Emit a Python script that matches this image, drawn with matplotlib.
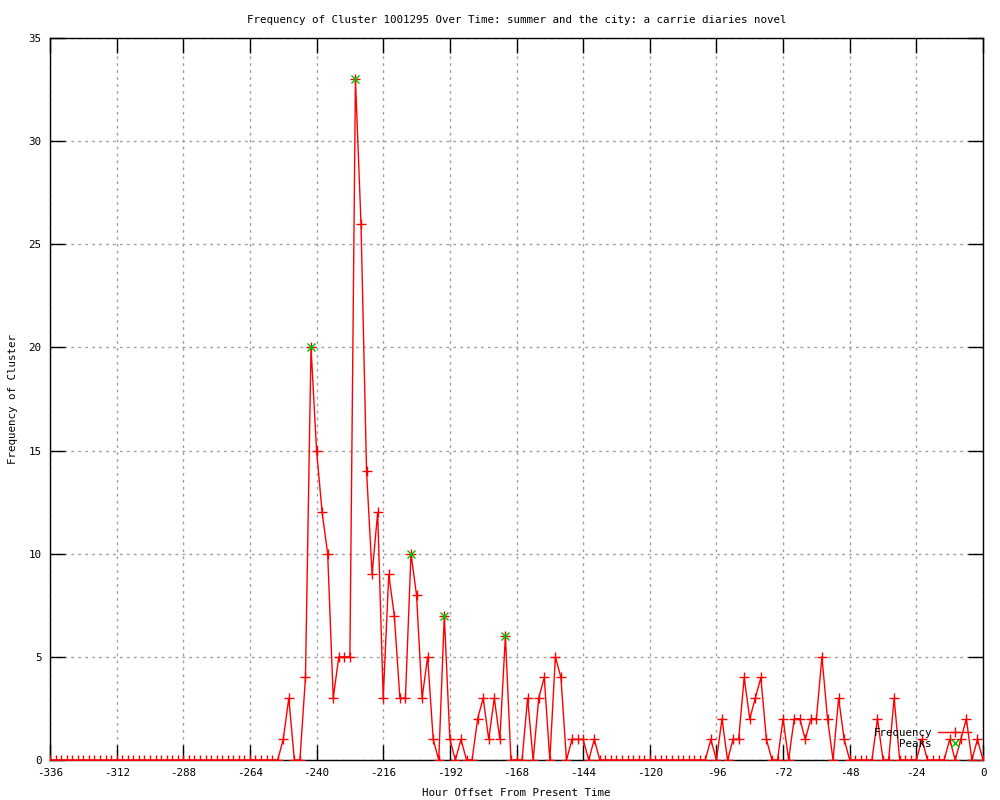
import numpy as np
import matplotlib.pyplot as plt

# Uren od sedanjosti (vsaki 2 uri) in frekvenca gruce
hours = np.arange(-336, 1, 2)
freq = [0] * 42 + [
    1, 3, 0, 0, 4, 20, 15, 12, 10, 3,           # -252 .. -234
    5, 5, 5, 33, 26, 14, 9, 12, 3, 9,           # -232 .. -214
    7, 3, 3, 10, 8, 3, 5, 1, 0, 7,              # -212 .. -194
    1, 0, 1, 0, 0, 2, 3, 1, 3, 1,               # -192 .. -174
    6, 0, 0, 0, 3, 0, 3, 4, 0, 5,               # -172 .. -154
    4, 0, 1, 1, 1, 0, 1, 0,                     # -152 .. -138
] + [0] * 19 + [
    1, 0, 2, 0, 1, 1, 4, 2, 3, 4,               # -98 .. -80
    1, 0, 0, 2, 0, 2, 2, 1, 2, 2,               # -78 .. -60
    5, 2, 0, 3, 1, 0, 0, 0, 0, 0,               # -58 .. -40
    2, 0, 0, 3, 0, 0, 0, 0, 1, 0,               # -38 .. -20
    0, 0, 0, 1, 0, 1, 2, 0, 1, 0,               # -18 .. 0
]

peak_hours = [-242, -226, -206, -194, -172]
peak_values = [20, 33, 10, 7, 6]

x_ticks = list(range(-336, 1, 24))
y_ticks = list(range(0, 36, 5))

plt.rcParams['font.family'] = ['DejaVu Sans Mono']
plt.rcParams['font.size'] = 7.8
plt.rcParams['axes.unicode_minus'] = False

fig = plt.figure(figsize=(10, 8), dpi=100)
ax = fig.add_axes([0.05, 0.05, 0.933, 0.9025])

ax.plot(hours, freq, color='red', lw=1, marker='+', markersize=7,
        markeredgewidth=1, label='Frequency', zorder=3)
ax.plot(peak_hours, peak_values, linestyle='none', marker='x', color='#00c000',
        markersize=6, markeredgewidth=1, label='Peaks', zorder=4)

ax.set_xlim(-336, 0)
ax.set_ylim(0, 35)
ax.set_xticks(x_ticks)
ax.set_yticks(y_ticks)
ax.tick_params(direction='in', length=11, width=1, top=True, right=True,
               labeltop=False, labelright=False, pad=6)
ax.grid(True, color='#a0a0a0', linestyle=(0, (2, 3)), lw=1)
for s in ax.spines.values():
    s.set_linewidth(1)

ax.set_title('Frequency of Cluster 1001295 Over Time: summer and the city: a carrie diaries novel',
             fontsize=7.8, pad=11)
ax.set_xlabel('Hour Offset From Present Time', labelpad=7)
ax.set_ylabel('Frequency of Cluster', labelpad=8)

ax.legend(loc='lower right', bbox_to_anchor=(0.995, 0.005), frameon=False,
          markerfirst=False, handlelength=3, handletextpad=0.6,
          labelspacing=0.1, borderaxespad=0.3)

fig.savefig('out.png', dpi=100)
